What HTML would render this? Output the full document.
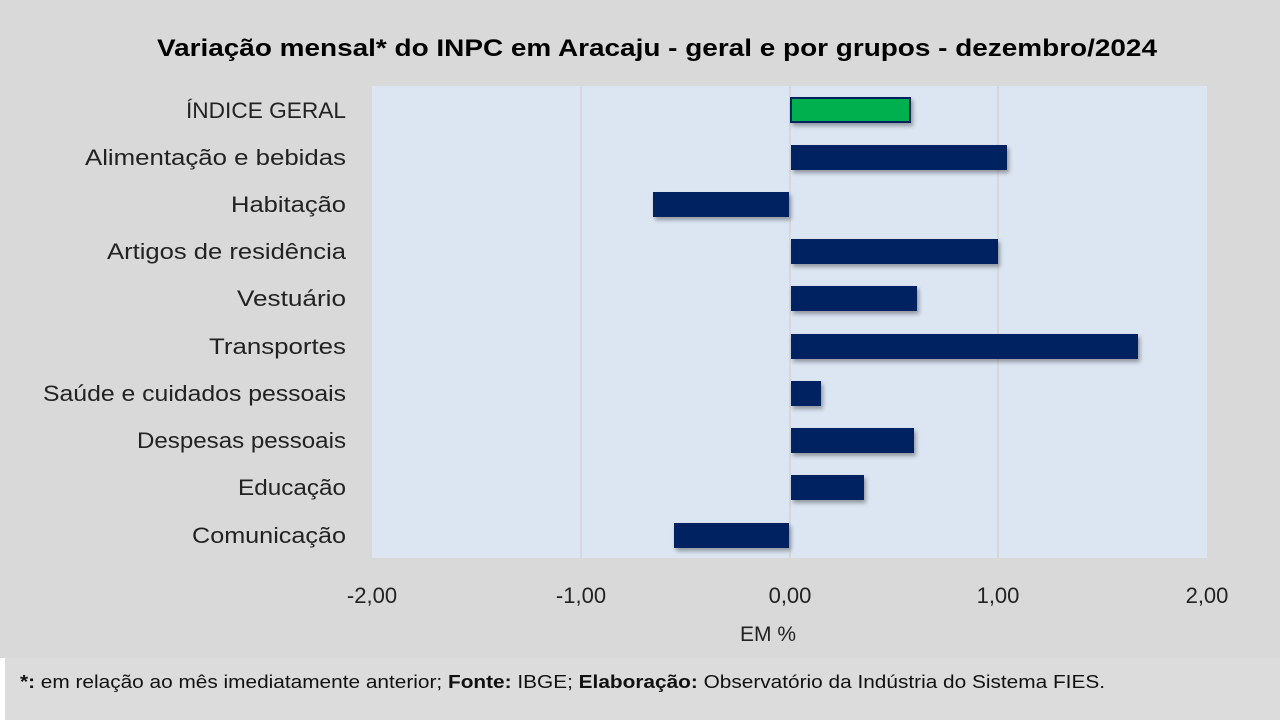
<!DOCTYPE html>
<html><head><meta charset="utf-8"><style>
html,body{margin:0;padding:0;background:#d9d9d9;}
svg{display:block;font-family:"Liberation Sans",Calibri,sans-serif;}
</style></head><body>
<svg width="1280" height="720" viewBox="0 0 1280 720" xmlns="http://www.w3.org/2000/svg">
<defs><filter id="sh" x="-5%" y="-30%" width="115%" height="180%"><feDropShadow dx="2" dy="3" stdDeviation="2" flood-color="#000" flood-opacity="0.35"/></filter></defs>
<rect width="1280" height="720" fill="#d9d9d9"/>
<rect x="0" y="658" width="5" height="62" fill="#ffffff"/>
<rect x="5" y="658" width="1275" height="62" fill="#dcdcdc"/>
<text x="157" y="56" font-size="24" font-weight="bold" fill="#000" textLength="1000" lengthAdjust="spacingAndGlyphs">Variação  mensal*  do INPC em Aracaju  - geral e por grupos - dezembro/2024</text>
<rect x="372" y="86" width="835" height="472" fill="#dce6f2"/>
<g stroke="#d0d0d0" stroke-width="1.2">
<line x1="581" y1="86" x2="581" y2="558"/><line x1="790" y1="86" x2="790" y2="558"/><line x1="998" y1="86" x2="998" y2="558"/>
</g>
<g filter="url(#sh)">
<rect x="791" y="98" width="119" height="24" fill="#00b050" stroke="#002060" stroke-width="2"/>
<rect x="791" y="145" width="216" height="25" fill="#002060"/>
<rect x="653" y="192" width="136" height="25" fill="#002060"/>
<rect x="791" y="239" width="207" height="25" fill="#002060"/>
<rect x="791" y="286" width="126" height="25" fill="#002060"/>
<rect x="791" y="334" width="347" height="25" fill="#002060"/>
<rect x="791" y="381" width="30" height="25" fill="#002060"/>
<rect x="791" y="428" width="123" height="25" fill="#002060"/>
<rect x="791" y="475" width="73" height="25" fill="#002060"/>
<rect x="674" y="523" width="115" height="25" fill="#002060"/>
</g>
<g font-size="22" fill="#222">
<text x="186" y="118" textLength="160" lengthAdjust="spacingAndGlyphs">ÍNDICE GERAL</text>
<text x="85" y="165" textLength="261" lengthAdjust="spacingAndGlyphs">Alimentação e bebidas</text>
<text x="231" y="212" textLength="115" lengthAdjust="spacingAndGlyphs">Habitação</text>
<text x="107" y="259" textLength="239" lengthAdjust="spacingAndGlyphs">Artigos de residência</text>
<text x="237" y="306" textLength="109" lengthAdjust="spacingAndGlyphs">Vestuário</text>
<text x="209" y="354" textLength="137" lengthAdjust="spacingAndGlyphs">Transportes</text>
<text x="43" y="401" textLength="303" lengthAdjust="spacingAndGlyphs">Saúde e cuidados pessoais</text>
<text x="137" y="448" textLength="209" lengthAdjust="spacingAndGlyphs">Despesas pessoais</text>
<text x="238" y="495" textLength="108" lengthAdjust="spacingAndGlyphs">Educação</text>
<text x="192" y="543" textLength="154" lengthAdjust="spacingAndGlyphs">Comunicação</text>
</g>
<g font-size="22" fill="#222" text-anchor="middle">
<text x="372" y="603">-2,00</text>
<text x="581" y="603">-1,00</text>
<text x="790" y="603">0,00</text>
<text x="998" y="603">1,00</text>
<text x="1207" y="603">2,00</text>
<text x="768" y="641" font-size="21">EM %</text>
</g>
<text x="20" y="688" font-size="18" fill="#111" textLength="1085" lengthAdjust="spacingAndGlyphs"><tspan font-weight="bold">*:</tspan> em relação ao mês imediatamente  anterior; <tspan font-weight="bold">Fonte:</tspan> IBGE; <tspan font-weight="bold">Elaboração:</tspan> Observatório da Indústria do Sistema FIES.</text>
</svg>
</body></html>
